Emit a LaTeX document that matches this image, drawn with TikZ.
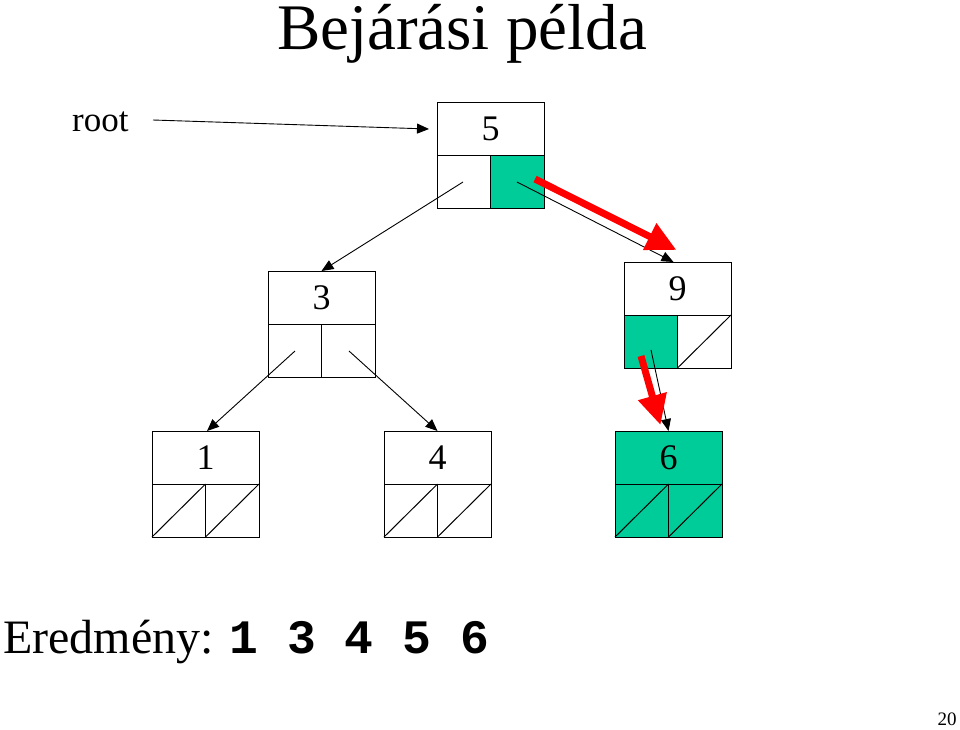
\documentclass[tikz,border=0pt]{standalone}
\usepackage{fontspec}
\setmainfont{Liberation Serif}
\setmonofont{Liberation Mono}
\usetikzlibrary{arrows.meta,calc}
\definecolor{cellgreen}{HTML}{00CC99}
\definecolor{hotred}{HTML}{FF0000}
\tikzset{
  box/.style={draw=black, line width=1pt, minimum width=107pt, minimum height=106pt, inner sep=0pt, outer sep=0pt},
  ptr/.style={draw=black, line width=0.9pt, -{Triangle[length=12pt,width=10pt]}},
  redptr/.style={draw=hotred, line width=7pt, -{Triangle[length=30pt,width=28pt]}},
  grid/.style={draw=black, line width=1pt},
  num/.style={font=\fontsize{36}{36}\selectfont, inner sep=0pt},
}
\newcommand{\tnode}[6]{% name, cx, cy, label, fill left, fill right
  \node[box] (#1) at (#2,#3) {};
  \fill[#5] (#1.west) rectangle (#1.south);
  \fill[#6] (#1.center) rectangle (#1.south east);
  \draw[grid] (#1.north west) rectangle (#1.south east);
  \draw[grid] (#1.west) -- (#1.east);
  \draw[grid] (#1.center) -- (#1.south);
  \node[num] (#1lab) at ($(#1.north)!0.5!(#1.center)$) {#4};
}
\begin{document}
\begin{tikzpicture}[x=1pt,y=-1pt]
\useasboundingbox (0,0) rectangle (960,729);
\fill[white] (0,0) rectangle (960,729);

\node[anchor=base, inner sep=0pt, font=\fontsize{65}{65}\selectfont] (title) at (462,49) {Bejárási példa};
\node[anchor=base west, inner sep=0pt, font=\fontsize{35}{35}\selectfont] (root) at (72,131) {root};

\tnode{n5}{490.5}{155}{5}{white}{cellgreen}
\tnode{n3}{321.5}{324}{3}{white}{white}
\tnode{n9}{677.5}{315}{9}{cellgreen}{white}
\tnode{n1}{205.5}{484}{1}{white}{white}
\tnode{n4}{437.5}{484}{4}{white}{white}
\node[box, fill=cellgreen] (n6) at (668.5,484) {};
\draw[grid] (n6.west) -- (n6.east);
\draw[grid] (n6.center) -- (n6.south);
\node[num] (n6lab) at ($(n6.north)!0.5!(n6.center)$) {6};

% null pointers (diagonals)
\draw[grid] (n9.south) -- (n9.east);
\draw[grid] (n1.south west) -- (n1.center);
\draw[grid] (n1.south) -- (n1.east);
\draw[grid] (n4.south west) -- (n4.center);
\draw[grid] (n4.south) -- (n4.east);
\draw[grid] (n6.south west) -- (n6.center);
\draw[grid] (n6.south) -- (n6.east);

% pointer start points
\coordinate (rootstart) at (153,120);
\coordinate (p5l) at (463,182);
\coordinate (p5r) at (517,182);
\coordinate (p3l) at (295,351);
\coordinate (p3r) at (349,351);
\coordinate (p9l) at (651,350);

\draw[ptr] (rootstart) -- ([shift={(-8,27)}]n5.north west);
\draw[ptr] (p5l) -- (n3.north);
\draw[ptr] (p5r) -- ([shift={(-4,0)}]n9.north);
\draw[ptr] (p3l) -- ([shift={(1.5,0)}]n1.north);
\draw[ptr] (p3r) -- (n4.north);
\draw[ptr] (p9l) -- (n6.north);

% traversal red arrows
\coordinate (r1s) at (535,179);
\coordinate (r2s) at (641,356);
\draw[redptr] (r1s) -- ([shift={(-1,-12)}]n9.north);
\draw[redptr] (r2s) -- ([shift={(-8,-6)}]n6.north);

\node[anchor=base west, inner sep=0pt, font=\fontsize{48}{48}\selectfont] (res) at (3,653) {Eredmény: \texttt{\bfseries 1 3 4 5 6}};
\node[inner sep=0pt, font=\fontsize{19}{19}\selectfont] (pg) at (947,719) {20};
\end{tikzpicture}
\end{document}
